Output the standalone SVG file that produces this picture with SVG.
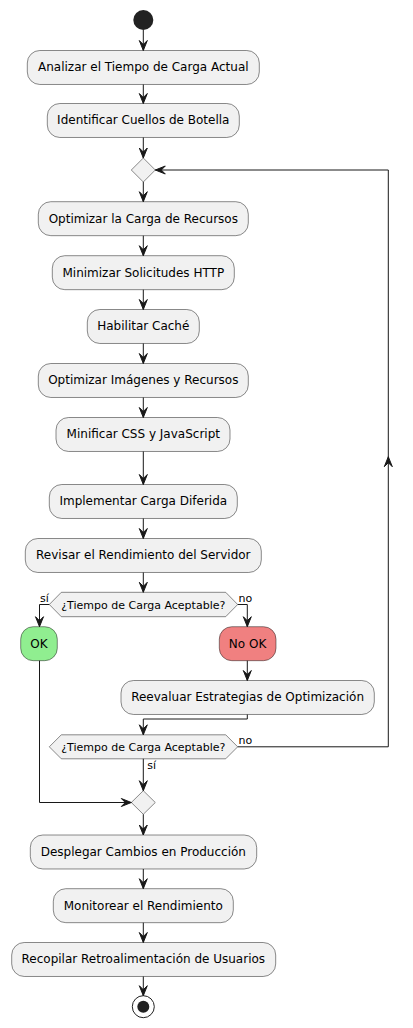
<svg xmlns="http://www.w3.org/2000/svg" width="413" height="1028" viewBox="0 0 413 1028">
<style>
.box{fill:#F1F1F1;stroke:#181818;stroke-width:0.5}
.t{font-family:"DejaVu Sans",sans-serif;font-size:12px;fill:#000;text-anchor:middle}
.s{font-family:"DejaVu Sans",sans-serif;font-size:11px;fill:#000}
.ln{fill:none;stroke:#181818;stroke-width:1}
.ah{fill:#181818;stroke:#181818;stroke-width:1}
</style>
<rect width="413" height="1028" fill="#FFFFFF"/>
<g id="start"><circle cx="143.3" cy="20" r="10" fill="#222222"/></g>
<g id="n1"><rect class="box" x="27.3" y="50.5" width="232" height="33.97" rx="12.5"/><text class="t" x="143.3" y="71.3">Analizar el Tiempo de Carga Actual</text></g>
<g id="n2"><rect class="box" x="47.3" y="103.5" width="192" height="33.97" rx="12.5"/><text class="t" x="143.3" y="124.3">Identificar Cuellos de Botella</text></g>
<g id="loopMerge"><polygon class="box" points="143.3,158 155.3,170 143.3,182 131.3,170"/></g>
<g id="n3"><rect class="box" x="38.3" y="201.7" width="210" height="33.97" rx="12.5"/><text class="t" x="143.3" y="222.5">Optimizar la Carga de Recursos</text></g>
<g id="n4"><rect class="box" x="52.3" y="255.7" width="182" height="33.97" rx="12.5"/><text class="t" x="143.3" y="276.5">Minimizar Solicitudes HTTP</text></g>
<g id="n5"><rect class="box" x="87.3" y="309.5" width="112" height="33.97" rx="12.5"/><text class="t" x="143.3" y="330.3">Habilitar Caché</text></g>
<g id="n6"><rect class="box" x="38.3" y="363.5" width="210" height="33.97" rx="12.5"/><text class="t" x="143.3" y="384.3">Optimizar Imágenes y Recursos</text></g>
<g id="n7"><rect class="box" x="56" y="417.5" width="174" height="33.97" rx="12.5"/><text class="t" x="143.3" y="438.3">Minificar CSS y JavaScript</text></g>
<g id="n8"><rect class="box" x="49.3" y="484.5" width="188" height="33.97" rx="12.5"/><text class="t" x="143.3" y="505.3">Implementar Carga Diferida</text></g>
<g id="n9"><rect class="box" x="25.3" y="538.5" width="236" height="33.97" rx="12.5"/><text class="t" x="143.3" y="559.3">Revisar el Rendimiento del Servidor</text></g>
<g id="d1"><polygon class="box" points="61.3,592.3 225.7,592.3 237.7,604.5 225.7,616.7 61.3,616.7 49.3,604.5"/><text class="s" x="143.3" y="608.5" text-anchor="middle">¿Tiempo de Carga Aceptable?</text></g>
<g id="ok"><rect style="fill:#90EE90;stroke:#181818;stroke-width:0.5" x="20.7" y="626.7" width="36.6" height="33.97" rx="12.5"/><text class="t" x="39" y="647.5">OK</text></g>
<g id="nok"><rect style="fill:#F08080;stroke:#181818;stroke-width:0.5" x="219.3" y="626.7" width="56.7" height="33.97" rx="12.5"/><text class="t" x="247.6" y="647.5">No OK</text></g>
<g id="n10"><rect class="box" x="121" y="680.5" width="253.3" height="33.97" rx="12.5"/><text class="t" x="247.6" y="701.3">Reevaluar Estrategias de Optimización</text></g>
<g id="d2"><polygon class="box" points="61.3,734.8 225.7,734.8 237.7,746.8 225.7,758.8 61.3,758.8 49.3,746.8"/><text class="s" x="143.3" y="750.8" text-anchor="middle">¿Tiempo de Carga Aceptable?</text></g>
<g id="merge"><polygon class="box" points="143.3,790.7 155.3,802.5 143.3,814.3 131.3,802.5"/></g>
<g id="n11"><rect class="box" x="30.3" y="835" width="226.4" height="33.97" rx="12.5"/><text class="t" x="143.3" y="855.8">Desplegar Cambios en Producción</text></g>
<g id="n12"><rect class="box" x="53.3" y="888.7" width="180" height="33.97" rx="12.5"/><text class="t" x="143.3" y="909.5">Monitorear el Rendimiento</text></g>
<g id="n13"><rect class="box" x="11.7" y="942.5" width="264" height="33.97" rx="12.5"/><text class="t" x="143.3" y="963.3">Recopilar Retroalimentación de Usuarios</text></g>
<g id="end"><circle cx="143.3" cy="1006.7" r="11" fill="none" stroke="#222222" stroke-width="1"/><circle cx="143.3" cy="1006.7" r="6" fill="#222222"/></g>
<g id="connectors">
<path class="ln" d="M143.3,30 V50.5 M143.3,84.5 V103.5 M143.3,137.5 V158 M143.3,182 V201.7 M143.3,235.7 V255.7 M143.3,289.7 V309.5 M143.3,343.5 V363.5 M143.3,397.5 V417.5 M143.3,451.5 V484.5 M143.3,518.5 V538.5 M143.3,572.5 V592.3"/>
<path class="ln" d="M49.3,604.5 H39.5 V626.7 M237.7,604.5 H247.3 V626.7 M247.3,660.7 V680.5 M247.3,714.5 V719 H143.3 V734.8 M237.7,746.8 H388.3 V170 H155.3 M143.3,758.8 V790.7 M39.5,660.7 V802.5 H131.3 M143.3,814.3 V835 M143.3,869 V888.7 M143.3,922.7 V942.5 M143.3,976.5 V995.7"/>
<g class="ah">
<polygon points="139.3,40.5 143.3,50.5 147.3,40.5 143.3,44.5"/>
<polygon points="139.3,93.5 143.3,103.5 147.3,93.5 143.3,97.5"/>
<polygon points="139.3,148 143.3,158 147.3,148 143.3,152"/>
<polygon points="139.3,191.7 143.3,201.7 147.3,191.7 143.3,195.7"/>
<polygon points="139.3,245.7 143.3,255.7 147.3,245.7 143.3,249.7"/>
<polygon points="139.3,299.5 143.3,309.5 147.3,299.5 143.3,303.5"/>
<polygon points="139.3,353.5 143.3,363.5 147.3,353.5 143.3,357.5"/>
<polygon points="139.3,407.5 143.3,417.5 147.3,407.5 143.3,411.5"/>
<polygon points="139.3,474.5 143.3,484.5 147.3,474.5 143.3,478.5"/>
<polygon points="139.3,528.5 143.3,538.5 147.3,528.5 143.3,532.5"/>
<polygon points="139.3,582.3 143.3,592.3 147.3,582.3 143.3,586.3"/>
<polygon points="35.5,616.7 39.5,626.7 43.5,616.7 39.5,620.7"/>
<polygon points="243.3,616.7 247.3,626.7 251.3,616.7 247.3,620.7"/>
<polygon points="243.3,670.5 247.3,680.5 251.3,670.5 247.3,674.5"/>
<polygon points="139.3,724.8 143.3,734.8 147.3,724.8 143.3,728.8"/>
<polygon points="384.3,466.7 388.3,456.7 392.3,466.7 388.3,462.7"/>
<polygon points="165.3,166 155.3,170 165.3,174 161.3,170"/>
<polygon points="139.3,780.7 143.3,790.7 147.3,780.7 143.3,784.7"/>
<polygon points="121.3,798.5 131.3,802.5 121.3,806.5 125.3,802.5"/>
<polygon points="139.3,825 143.3,835 147.3,825 143.3,829"/>
<polygon points="139.3,878.7 143.3,888.7 147.3,878.7 143.3,882.7"/>
<polygon points="139.3,932.5 143.3,942.5 147.3,932.5 143.3,936.5"/>
<polygon points="139.3,985.7 143.3,995.7 147.3,985.7 143.3,989.7"/>
</g>
<text class="s" x="40" y="601.5">sí</text>
<text class="s" x="238.5" y="601.5">no</text>
<text class="s" x="238.5" y="743.5">no</text>
<text class="s" x="147.3" y="769">sí</text>
</g>
</svg>
